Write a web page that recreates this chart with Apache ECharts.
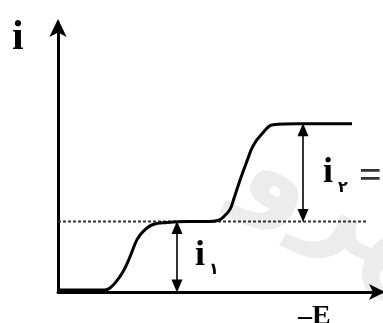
<!DOCTYPE html>
<html><head><meta charset="utf-8">
<script src="https://cdn.jsdelivr.net/npm/echarts@6/dist/echarts.min.js"></script>
<style>html,body{margin:0;padding:0;background:#fff}#c{width:383px;height:323px}</style>
</head><body><div id="c"></div>
<script>
// Polarographic wave (arbitrary units: x = -E, y = i)
const curveX = [0, 47, 52, 58, 65, 72, 79, 85, 95, 109, 130, 150, 160, 166, 172, 176, 182, 189, 195, 204, 215, 240, 294];
const curveY = [2, 2, 4, 10, 20, 35, 52, 60, 67, 69, 70, 70, 71, 75, 82, 93, 111, 130, 145, 157, 166, 167, 167];
const plateau1 = 70;
const plateau2 = 167;
const dashedX = [0, 310];
const arrowI1 = {x: 119, from: 0, to: 70};
const arrowI2 = {x: 245, from: 70, to: 167};

const chart = echarts.init(document.getElementById('c'));
const serif = 'Liberation Serif, DejaVu Serif, serif';
chart.setOption({
  animation: false,
  grid: {left: 58, right: 2, top: 23, bottom: 31},
  xAxis: {type: 'value', min: 0, max: 323, axisLabel: {show: false}, axisTick: {show: false}, splitLine: {show: false},
    axisLine: {lineStyle: {color: '#000', width: 3}, symbol: ['none', 'arrow'], symbolSize: [12, 16], symbolOffset: [0, 4]}},
  yAxis: {type: 'value', min: 0, max: 267, axisLabel: {show: false}, axisTick: {show: false}, splitLine: {show: false},
    axisLine: {lineStyle: {color: '#000', width: 3}, symbol: ['none', 'arrow'], symbolSize: [13, 18], symbolOffset: [0, 4]}},
  series: [
    {type: 'line', data: dashedX.map(x => [x, plateau1]), symbol: 'none', lineStyle: {color: '#333', width: 2, type: [3, 2]}},
    {type: 'line', data: curveX.map((x, i) => [x, curveY[i]]), smooth: 0.4, symbol: 'none', lineStyle: {color: '#000', width: 3}, z: 5,
      markLine: {silent: true, symbol: ['triangle', 'triangle'], symbolSize: [11, 13], label: {show: false},
        lineStyle: {color: '#000', width: 1.6, type: 'solid'},
        data: [
          [{coord: [arrowI1.x, arrowI1.from + 6]}, {coord: [arrowI1.x, arrowI1.to - 6]}],
          [{coord: [arrowI2.x, arrowI2.from + 6]}, {coord: [arrowI2.x, arrowI2.to - 6]}]
        ]}}
  ],
  graphic: [
    {type: 'text', rotation: -0.5, left: 225, top: 115, z: 0,
      style: {text: 'مهرو', font: 'bold 110px "Noto Sans", "DejaVu Sans"', fill: '#ececec'}},
    {type: 'text', left: 12, top: 17, z: 10, style: {text: 'i', font: 'bold 42px ' + serif, fill: '#000'}},
    {type: 'text', left: 195, top: 238, z: 10, style: {text: 'i', font: 'bold 36px ' + serif, fill: '#000'}},
    {type: 'text', left: 209, top: 262, z: 10, style: {text: '۱', font: 'bold 16px "DejaVu Sans"', fill: '#000'}},
    {type: 'text', left: 323, top: 155, z: 10, style: {text: 'i', font: 'bold 36px ' + serif, fill: '#000'}},
    {type: 'text', left: 338, top: 180, z: 10, style: {text: '۲', font: 'bold 16px "DejaVu Sans"', fill: '#000'}},
    {type: 'text', left: 359, top: 158, z: 10, style: {text: '=', font: 'bold 40px ' + serif, fill: '#333'}},
    {type: 'text', left: 298, top: 303, z: 10, style: {text: '–E', font: 'bold 28px ' + serif, fill: '#000'}}
  ]
});
</script></body></html>
